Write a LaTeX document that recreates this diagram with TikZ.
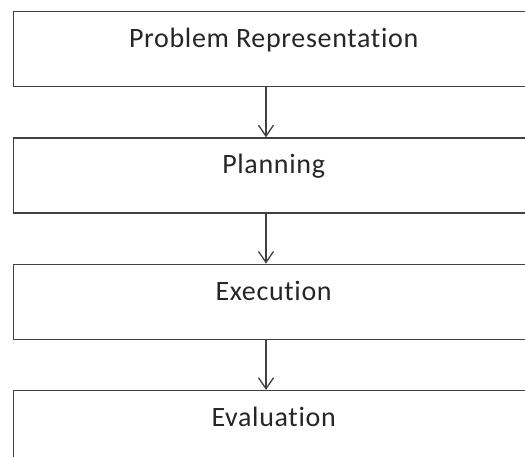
\documentclass[tikz,border=0pt]{standalone}
\usepackage{fontspec}
\setmainfont{Carlito}[Ligatures=NoCommon, LetterSpace=2.4]
\usetikzlibrary{arrows.meta,positioning}

\begin{document}
\begin{tikzpicture}[
    x=1pt, y=-1pt,
    stage/.style={
        draw=black!75,
        line width=1.3pt,
        minimum width=520pt,
        inner ysep=0pt,
        text height=36pt,
        text depth=39pt,
        font=\fontsize{28}{31}\selectfont,
        text=black!85
    },
    edge/.style={-{Straight Barb[length=11pt,width=15pt,line width=1.3pt]}, line width=1.3pt, draw=black!75},
    node distance=50pt
]
\useasboundingbox (0,0) rectangle (525,457);
\clip (0,0) rectangle (525,457);
\coordinate (axis) at (266,0);

\node[stage, anchor=north west] (rep) at (13,11) {Problem Representation};
\node[stage, below=of rep] (plan) {Planning};
\node[stage, below=of plan] (exec) {Execution};
\node[stage, below=of exec] (eval) {Evaluation};

\draw[edge] (rep.south -| axis) -- (plan.north -| axis);
\draw[edge] (plan.south -| axis) -- (exec.north -| axis);
\draw[edge] (exec.south -| axis) -- (eval.north -| axis);
\end{tikzpicture}
\end{document}
